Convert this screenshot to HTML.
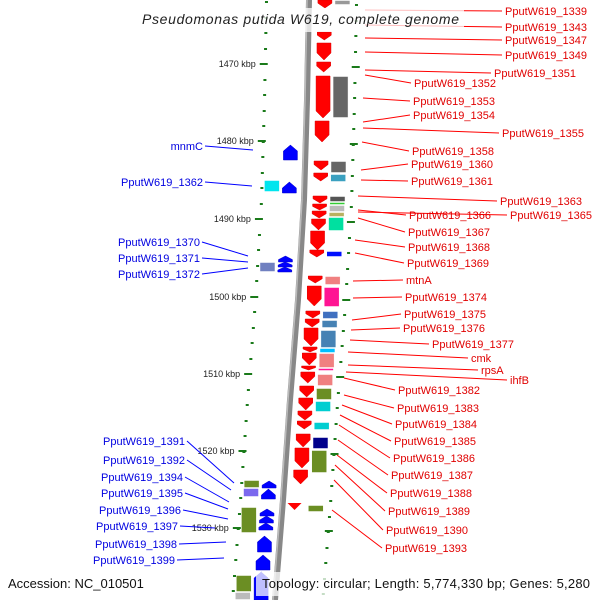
<!DOCTYPE html>
<html><head><meta charset="utf-8"><style>
html,body{margin:0;padding:0;background:#fff}
svg{display:block;font-family:"Liberation Sans",sans-serif}
</style></head><body>
<svg id="map" width="600" height="600" viewBox="0 0 600 600">
<defs>
<linearGradient id="bb" x1="0" x2="1"><stop offset="0" stop-color="#bbb"/><stop offset="0.4" stop-color="#777"/><stop offset="1" stop-color="#555"/></linearGradient>
</defs>
<g id="ticks"></g>
<path id="backbone" d="M309 0 L307 100 L304 200 L298 300 L290 400 L283 500 L275 600" stroke="#888" stroke-width="6" fill="none"/>
<path d="M307 0 L305 100 L302 200 L296 300 L288 400 L281 500 L273 600" stroke="#bbb" stroke-width="1.5" fill="none"/>
<g id="genes"></g>
<g id="lines"></g>
<g id="labels"></g>
<rect x="136" y="8" width="328" height="24" fill="#fff" opacity="0.75"/>
<text x="142" y="24" font-size="14" font-style="italic" fill="#222" textLength="317">Pseudomonas putida W619, complete genome</text>
<rect x="256" y="572" width="344" height="24" fill="#fff" opacity="0.75"/>
<text x="8" y="588" font-size="13" fill="#111">Accession: NC_010501</text>
<text x="262" y="588" font-size="13" fill="#111" textLength="328">Topology: circular; Length: 5,774,330 bp; Genes: 5,280</text>
</svg>
<script>
const NS="http://www.w3.org/2000/svg";
// backbone centre (y -> x)
const bbY=[0,100,200,300,400,500,600];
const bbX=[309,307,304,298,290,283,275];
function bx(y){for(let i=0;i<bbY.length-1;i++){if(y<=bbY[i+1]){const t=(y-bbY[i])/(bbY[i+1]-bbY[i]);return bbX[i]+t*(bbX[i+1]-bbX[i]);}}return bbX[bbX.length-1];}
function mk(tag,attrs,parent){const e=document.createElementNS(NS,tag);for(const k in attrs)e.setAttribute(k,attrs[k]);parent.appendChild(e);return e;}

// kbp scale
const kbpLabels=["1470 kbp","1480 kbp","1490 kbp","1500 kbp","1510 kbp","1520 kbp","1530 kbp"];
const kbpY=[63,140,218,296,373,450,527];
const tg=document.getElementById('ticks');
for(let y=0;y<600;y+=15.5){
  const yy=Math.round(y+1);
  const l=mk('rect',{x:bx(yy)-44,y:yy,width:3,height:2,fill:'#1a7a1a'},tg);
  
  
  const r=mk('rect',{x:bx(yy)+46,y:yy+3,width:3,height:2,fill:'#1a7a1a'},tg);
  
  
}
kbpY.forEach((y,i)=>{
  const m=mk('rect',{x:bx(y)-48,y:y,width:8,height:2,fill:'#1a7a1a'},tg);
  
  
  const m2=mk('rect',{x:bx(y)+44,y:y+3,width:8,height:2,fill:'#1a7a1a'},tg);
  
  
  const t=mk('text',{x:bx(y)-52,y:y+4,'font-size':9,'text-anchor':'end',fill:'#222'},tg);
  t.textContent=kbpLabels[i];
  
  
});

// genes: [yTop,yBottom,offset-from-backbone,width,colour,shape]
const genesRed=[[0,8],[32,40],[43,60],[62,72],[76,118],[121,142],[161,170],[173,181],[196,203],[204,210],[211,218],[219,230],[231,250],[250,257],[276,283],[286,306],[311,318],[319,327],[328,346],[347,352],[353,365],[366,370],[372,383],[386,397],[398,410],[411,420],[421,429],[434,447],[448,468],[470,484]];
const boxesRight=[[0,5,'#999'],[76,118,'#666'],[161,173,'#666'],[174,182,'#3aa0c0'],[196,202,'#555'],[202,205,'#3c3'],[205,212,'#bbb'],[212,217,'#b8b060'],[217,231,'#00e0a0'],[251,257,'#0010ff'],[276,285,'#f08080'],[287,307,'#ff1493'],[311,319,'#4070c0'],[320,328,'#4682b4'],[330,348,'#4682b4'],[348,353,'#00bfff'],[353,368,'#f08080'],[368,371,'#ff1493'],[374,386,'#f08080'],[388,400,'#6b8e23'],[401,412,'#00ced1'],[422,430,'#00ced1'],[437,449,'#00008b'],[450,473,'#6b8e23'],[505,512,'#6b8e23']];
const arrowsBlue=[[145,160],[182,193],[256,262],[262,267],[267,272],[481,488],[489,499],[509,516],[516,523],[523,530],[536,552],[555,570],[572,600]];
const boxesLeft=[[180,192,'#00e5ee'],[262,272,'#7080c0'],[480,488,'#6b8e23'],[488,497,'#7b68ee'],[507,533,'#6b8e23'],[575,592,'#6b8e23'],[592,600,'#bbb']];
const gg=document.getElementById('genes');
genesRed.forEach(g=>{
  const [a,b]=g;const c=bx((a+b)/2);const x1=c+9,x2=c+23;const tip=Math.min(7,(b-a)*0.6);
  const p=mk('polygon',{points:`${x1},${a} ${x2},${a} ${x2},${b-tip} ${(x1+x2)/2},${b} ${x1},${b-tip}`,fill:'#ff0000',stroke:'#d00','stroke-width':0.5},gg);
  
  
});
// small isolated red gene near bottom
{const c=bx(506);const p=mk('polygon',{points:`${c+5},503 ${c+19},503 ${c+12},510`,fill:'#ff0000'},gg);

}
boxesRight.forEach(g=>{
  const [a,b,col]=g;const c=bx((a+b)/2);
  const r=mk('rect',{x:c+26,y:a+0.5,width:15,height:b-a-1,fill:col,stroke:'#fff','stroke-width':0.5},gg);
  
  
});
arrowsBlue.forEach(g=>{
  const [a,b]=g;const c=bx((a+b)/2);const x1=c-22,x2=c-8;const tip=Math.min(6,(b-a)*0.6);
  const p=mk('polygon',{points:`${(x1+x2)/2},${a} ${x2},${a+tip} ${x2},${b} ${x1},${b} ${x1},${a+tip}`,fill:'#0000ff',stroke:'#00c','stroke-width':0.5},gg);
  
  
});
boxesLeft.forEach(g=>{
  const [a,b,col]=g;const c=bx((a+b)/2);
  const r=mk('rect',{x:c-40,y:a+0.5,width:15,height:b-a-1,fill:col,stroke:'#fff','stroke-width':0.5},gg);
  
  
});

// labels: [text, anchor x, anchor y, label x, label y]
const rightLabels=[["PputW619_1339",365,10,505,11],["PputW619_1343",365,25,505,27],["PputW619_1347",365,38,505,40],["PputW619_1349",365,52,505,55],["PputW619_1351",365,70,494,73],["PputW619_1352",365,75,414,83],["PputW619_1353",363,98,413,101],["PputW619_1354",363,122,413,115],["PputW619_1355",363,128,502,133],["PputW619_1358",362,142,412,151],["PputW619_1360",361,170,411,164],["PputW619_1361",361,180,411,181],["PputW619_1363",358,196,500,201],["PputW619_1366",358,210,409,215],["PputW619_1365",358,212,510,215],["PputW619_1367",358,218,408,232],["PputW619_1368",355,240,408,247],["PputW619_1369",355,253,407,263],["mtnA",353,281,406,280],["PputW619_1374",353,298,405,297],["PputW619_1375",352,320,404,314],["PputW619_1376",351,330,403,328],["PputW619_1377",350,340,432,344],["cmk",348,352,471,358],["rpsA",348,365,481,370],["ihfB",346,372,510,380],["PputW619_1382",344,378,398,390],["PputW619_1383",344,395,397,408],["PputW619_1384",342,405,395,424],["PputW619_1385",340,415,394,441],["PputW619_1386",339,425,393,458],["PputW619_1387",338,440,391,475],["PputW619_1388",337,455,390,493],["PputW619_1389",335,465,388,511],["PputW619_1390",334,480,386,530],["PputW619_1393",332,510,385,548]];
const leftLabels=[["mnmC",253,150,203,146],["PputW619_1362",252,186,203,182],["PputW619_1370",248,256,200,242],["PputW619_1371",248,262,200,258],["PputW619_1372",248,268,200,274],["PputW619_1391",234,483,185,441],["PputW619_1392",231,490,185,460],["PputW619_1394",229,502,183,477],["PputW619_1395",228,509,183,493],["PputW619_1396",228,519,181,510],["PputW619_1397",215,528,178,526],["PputW619_1398",226,542,177,544],["PputW619_1399",224,558,175,560]];
const lg=document.getElementById('lines'),tl=document.getElementById('labels');
rightLabels.forEach(l=>{
  const [t,ax,ay,lx,ly]=l;
  const ln=mk('line',{x1:ax,y1:ay,x2:lx-3,y2:ly,stroke:'#f00','stroke-width':1},lg);
  
  
  const tx=mk('text',{x:lx,y:ly+4,'font-size':11,fill:'#e00000'},tl);
  tx.textContent=t;
  
  
});
leftLabels.forEach(l=>{
  const [t,ax,ay,lx,ly]=l;
  const ln=mk('line',{x1:ax,y1:ay,x2:lx+2,y2:ly,stroke:'#00f','stroke-width':1},lg);
  
  
  const tx=mk('text',{x:lx,y:ly+4,'font-size':11,fill:'#0000e0','text-anchor':'end'},tl);
  tx.textContent=t;
  
  
});
</script>
</body></html>
